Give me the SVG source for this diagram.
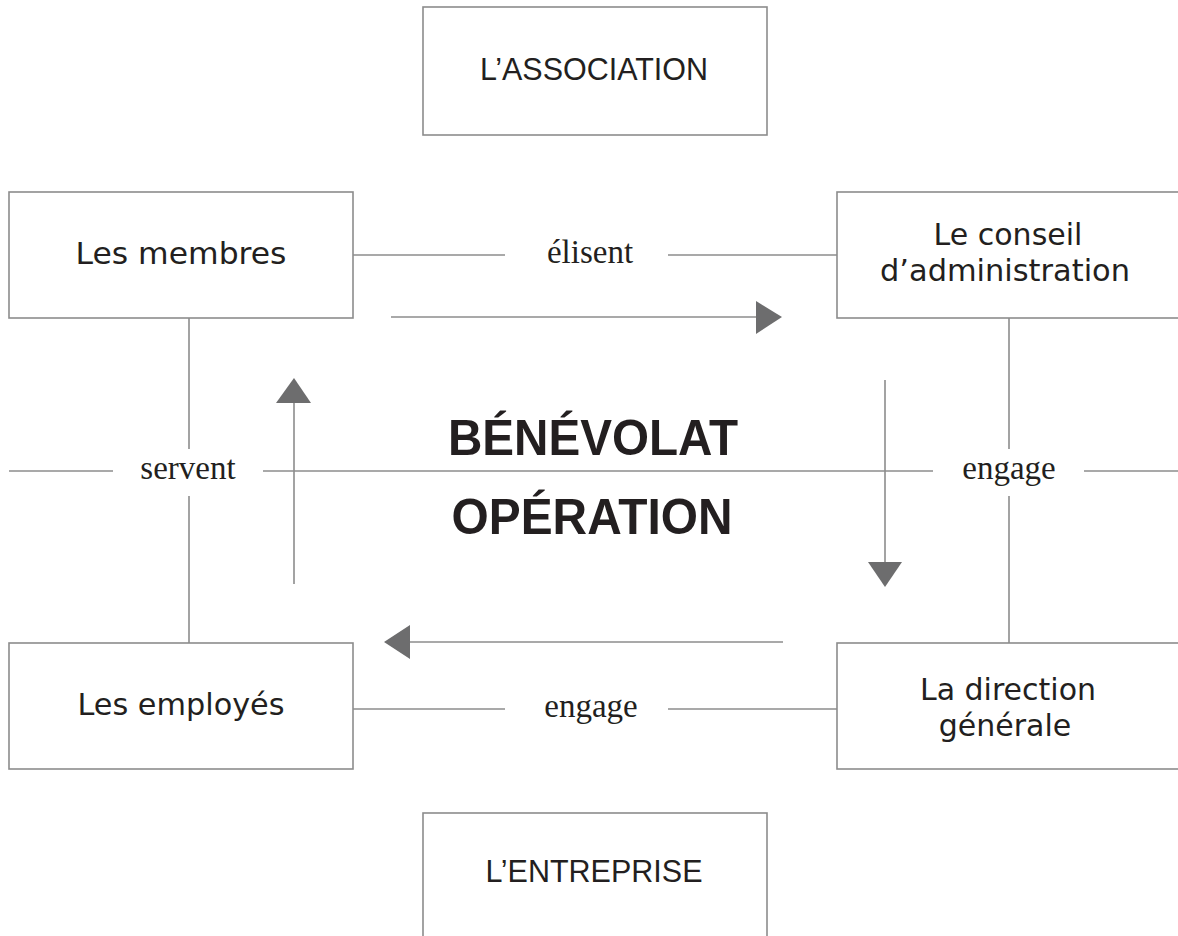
<svg xmlns="http://www.w3.org/2000/svg" width="1178" height="936" viewBox="0 0 1178 936">
<style>
.box{fill:#fff;stroke:#8c8c8c;stroke-width:1.6}
.ln{stroke:#8c8c8c;stroke-width:1.6;fill:none}
.ah{fill:#6d6d6e}
.nt{font-family:"DejaVu Sans",sans-serif;font-size:30px;fill:#231f20;text-anchor:middle}
.ct{font-family:"Liberation Sans",sans-serif;font-size:32px;fill:#231f20;text-anchor:middle}
.lb{font-family:"Liberation Serif",serif;font-size:33px;fill:#231f20;text-anchor:middle}
.big{font-family:"Liberation Sans",sans-serif;font-weight:bold;font-size:50px;fill:#231f20;text-anchor:middle}
</style>
<rect width="1178" height="936" fill="#fff"/>
<g id="connectors">
<line class="ln" x1="353" y1="255" x2="505" y2="255"/>
<line class="ln" x1="668" y1="255" x2="837" y2="255"/>
<line class="ln" x1="353" y1="709" x2="505" y2="709"/>
<line class="ln" x1="668" y1="709" x2="837" y2="709"/>
<line class="ln" x1="189" y1="318" x2="189" y2="449"/>
<line class="ln" x1="189" y1="496" x2="189" y2="643"/>
<line class="ln" x1="1009" y1="318" x2="1009" y2="449"/>
<line class="ln" x1="1009" y1="496" x2="1009" y2="643"/>
<line class="ln" x1="9" y1="471" x2="113" y2="471"/>
<line class="ln" x1="263" y1="471" x2="933" y2="471"/>
<line class="ln" x1="1084" y1="471" x2="1178" y2="471"/>
<line class="ln" x1="391" y1="317" x2="757" y2="317"/>
<polygon class="ah" points="756,301 782,317 756,334"/>
<line class="ln" x1="783" y1="642" x2="409" y2="642"/>
<polygon class="ah" points="410,625 384,642 410,659"/>
<line class="ln" x1="294" y1="584" x2="294" y2="402"/>
<polygon class="ah" points="276,403 294,378 311,403"/>
<line class="ln" x1="885" y1="380" x2="885" y2="563"/>
<polygon class="ah" points="868,562 885,587 902,562"/>
<text class="lb" x="590" y="263">élisent</text>
<text class="lb" x="188" y="479">servent</text>
<text class="lb" x="1009" y="479">engage</text>
<text class="lb" x="591" y="717">engage</text>
</g>
<g id="center-title">
<text class="big" x="593" y="455" textLength="290" lengthAdjust="spacingAndGlyphs">BÉNÉVOLAT</text>
<text class="big" x="592" y="534" textLength="281" lengthAdjust="spacingAndGlyphs">OPÉRATION</text>
</g>
<g id="association">
<rect class="box" x="423" y="7" width="344" height="128"/>
<text class="ct" x="594" y="80" textLength="228" lengthAdjust="spacingAndGlyphs">L’ASSOCIATION</text>
</g>
<g id="entreprise">
<rect class="box" x="423" y="813" width="344" height="140"/>
<text class="ct" x="594" y="882" textLength="217" lengthAdjust="spacingAndGlyphs">L’ENTREPRISE</text>
</g>
<g id="membres">
<rect class="box" x="9" y="192" width="344" height="126"/>
<text class="nt" x="181" y="264" textLength="211" lengthAdjust="spacingAndGlyphs">Les membres</text>
</g>
<g id="conseil">
<rect class="box" x="837" y="192" width="350" height="126"/>
<text class="nt" x="1008" y="245">Le conseil</text>
<text class="nt" x="1005" y="281" textLength="250" lengthAdjust="spacingAndGlyphs">d’administration</text>
</g>
<g id="employes">
<rect class="box" x="9" y="643" width="344" height="126"/>
<text class="nt" x="181" y="715" textLength="207" lengthAdjust="spacingAndGlyphs">Les employés</text>
</g>
<g id="direction">
<rect class="box" x="837" y="643" width="350" height="126"/>
<text class="nt" x="1008" y="700">La direction</text>
<text class="nt" x="1005" y="736">générale</text>
</g>
</svg>
